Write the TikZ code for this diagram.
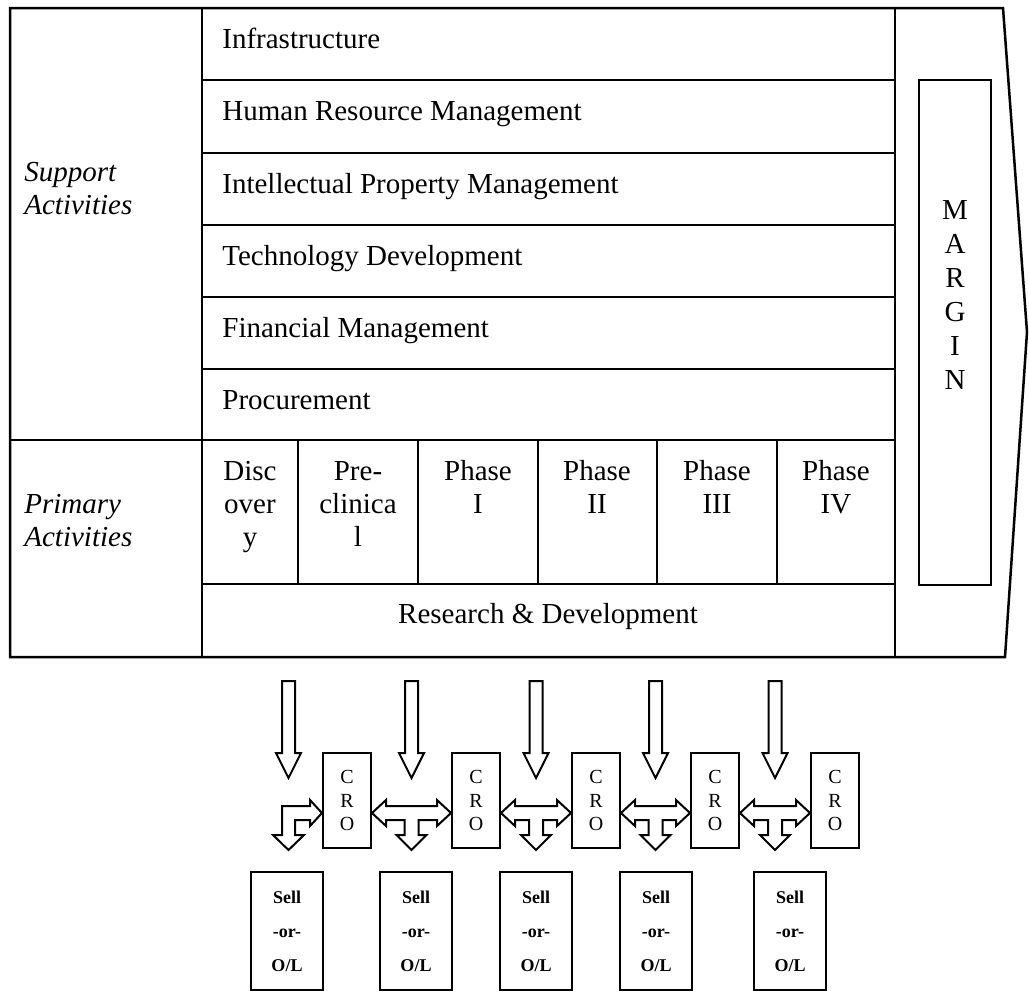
\documentclass[tikz,border=0pt]{standalone}
\usepackage{fontspec}
\setmainfont{Liberation Serif}
\usetikzlibrary{calc}
\begin{document}
\begin{tikzpicture}[x=0.5pt,y=-0.5pt,line join=miter,
  frame/.style={line width=1.25pt},
  blockarrow/.style={line width=1pt,fill=white},
  rowtxt/.style={inner sep=0pt,anchor=base west,font=\fontsize{14.5}{16.5}\selectfont},
  sidetxt/.style={inner sep=0pt,anchor=north west,font=\fontsize{14.5}{16.5}\selectfont\itshape,align=left},
  celltxt/.style={inner sep=0pt,anchor=north,font=\fontsize{14.5}{16.5}\selectfont,align=center},
  crobox/.style={draw,line width=1pt,minimum width=24pt,minimum height=47.5pt,inner sep=0pt,align=center,font=\fontsize{10}{11.75}\selectfont},
  sellbox/.style={draw,line width=1pt,minimum width=36pt,minimum height=59pt,inner sep=0pt,align=center,font=\fontsize{9}{17}\selectfont\bfseries}]
\useasboundingbox (0,0) rectangle (1029,991);
% outer frame with chevron
\draw[frame] (10,8) -- (1003,8) -- (1027,332) -- (1005,657) -- (10,657) -- cycle;
\draw[frame] (895,8) -- (895,657);
\draw[frame] (202,8) -- (202,657);
\foreach \y in {80,153,225,297,369} \draw[frame] (202,\y) -- (895,\y);
\draw[frame] (10,440) -- (895,440);
\draw[frame] (202,584) -- (895,584);
\foreach \x in {298,418,538,657,777} \draw[frame] (\x,440) -- (\x,584);
% margin box
\draw[frame] (919,80) rectangle (991,585);
\node[inner sep=0pt,anchor=north,align=center,font=\fontsize{14.5}{17}\selectfont] (margin) at (955,195) {\strut M\\A\\R\\G\\I\\N};
% support rows
\node[rowtxt] (infra) at (222,48) {Infrastructure};
\node[rowtxt] (hrm) at (222,120) {Human Resource Management};
\node[rowtxt] (ipm) at (222,193) {Intellectual Property Management};
\node[rowtxt] (tech) at (222,265) {Technology Development};
\node[rowtxt] (fin) at (222,337) {Financial Management};
\node[rowtxt] (proc) at (222,409) {Procurement};
\node[sidetxt] (support) at (24,158) {\strut Support\\Activities};
\node[sidetxt] (primary) at (24,490) {\strut Primary\\Activities};
% phases
\node[celltxt] (disc) at (250,457) {\strut Disc\\over\\y};
\node[celltxt] (precl) at (358,457) {\strut Pre-\\clinica\\l};
\node[celltxt] (ph1) at (478,457) {\strut Phase\\I};
\node[celltxt] (ph2) at (597,457) {\strut Phase\\II};
\node[celltxt] (ph3) at (717,457) {\strut Phase\\III};
\node[celltxt] (ph4) at (836,457) {\strut Phase\\IV};
\node[rowtxt,anchor=base] (rd) at (548,623) {Research \& Development};
% CRO boxes
\node[crobox] (cro1) at (347,800.5) {C\\R\\O};
\node[crobox] (cro2) at (476,800.5) {C\\R\\O};
\node[crobox] (cro3) at (596,800.5) {C\\R\\O};
\node[crobox] (cro4) at (715,800.5) {C\\R\\O};
\node[crobox] (cro5) at (835,800.5) {C\\R\\O};
% sell boxes
\node[sellbox] (sell1) at (287,931) {Sell\\-or-\\O/L};
\node[sellbox] (sell2) at (416,931) {Sell\\-or-\\O/L};
\node[sellbox] (sell3) at (536,931) {Sell\\-or-\\O/L};
\node[sellbox] (sell4) at (656,931) {Sell\\-or-\\O/L};
\node[sellbox] (sell5) at (790,931) {Sell\\-or-\\O/L};
% down arrows
\foreach \c in {288.5,411.5,536,655.5,775}
  \draw[blockarrow] (\c-6.5,681) -- (\c+6.5,681) -- (\c+6.5,753) -- (\c+12.5,753) -- (\c,778) -- (\c-12.5,753) -- (\c-6.5,753) -- cycle;
% L arrow
\draw[blockarrow] (282,835) -- (282,806) -- (310,806) -- (310,800) -- (cro1.west |- 0,813) -- (310,826) -- (310,820) -- (295,820) -- (295,835) -- (304,835) -- (288.5,850) -- (273,835) -- cycle;
% T arrows
\foreach \a/\b in {cro1/cro2,cro2/cro3,cro3/cro4,cro4/cro5}{
  \path (\a.east) coordinate (L) (\b.west) coordinate (R);
  \path let \p1=(L), \p2=(R) in
    coordinate (C) at ({(\x1+\x2)/2},0);
  \draw[blockarrow] (L |- 0,813) -- ([xshift=7pt]L |- 0,800) -- ([xshift=7pt]L |- 0,806) -- ([xshift=-7pt]R |- 0,806) -- ([xshift=-7pt]R |- 0,800) -- (R |- 0,813) -- ([xshift=-7pt]R |- 0,826) -- ([xshift=-7pt]R |- 0,820)
    -- ([xshift=3.5pt]C |- 0,820) -- ([xshift=3.5pt]C |- 0,835) -- ([xshift=7.5pt]C |- 0,835) -- (C |- 0,850) -- ([xshift=-7.5pt]C |- 0,835) -- ([xshift=-3.5pt]C |- 0,835) -- ([xshift=-3.5pt]C |- 0,820)
    -- ([xshift=7pt]L |- 0,820) -- ([xshift=7pt]L |- 0,826) -- cycle;
}
\end{tikzpicture}
\end{document}
